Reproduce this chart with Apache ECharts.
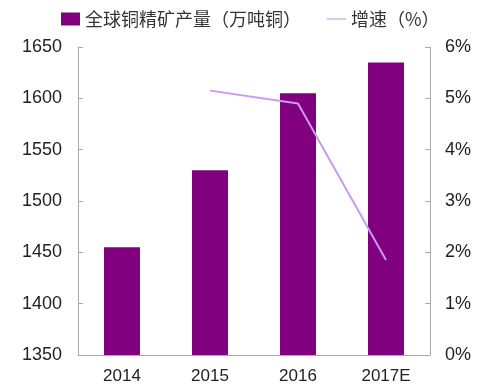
<!DOCTYPE html>
<html><head><meta charset="utf-8">
<script src="https://cdn.jsdelivr.net/npm/echarts@6/dist/echarts.min.js"></script>
<style>html,body{margin:0;padding:0;background:#fff}#c{width:499px;height:391px}</style>
</head><body><div id="c"></div>
<script>
const categories = ['2014', '2015', '2016', '2017E'];
const production = [1455, 1530, 1605, 1635];
const growth = [null, 5.15, 4.9, 1.85];
const leftTicks = [1350, 1650, 50];
const rightTicks = [0, 6, 1];

const chart = echarts.init(document.getElementById('c'), null, {renderer: 'canvas'});
const font = '"Liberation Sans", Arial, sans-serif';
chart.setOption({
  animation: false,
  legend: {
    top: 5, left: 56, itemGap: 26, itemWidth: 19, itemHeight: 13,
    textStyle: {fontSize: 18, color: '#333', fontFamily: '"Noto Sans CJK SC", sans-serif'},
    data: [
      {name: '全球铜精矿产量（万吨铜）', icon: 'rect'},
      {name: '增速（%）', icon: 'path://M0,0 L20,0 L20,1.2 L0,1.2 Z'}
    ]
  },
  grid: {left: 78, right: 69, top: 47, bottom: 36, containLabel: false},
  xAxis: {
    type: 'category', data: categories,
    axisLine: {lineStyle: {color: '#aaa'}},
    axisTick: {inside: true, length: 5, lineStyle: {color: '#aaa'}},
    axisLabel: {fontSize: 17, color: '#222', fontFamily: font, margin: 13}
  },
  yAxis: [
    {type: 'value', min: leftTicks[0], max: leftTicks[1], interval: leftTicks[2],
     axisLine: {show: true, lineStyle: {color: '#aaa'}},
     axisTick: {show: true, inside: true, length: 5, lineStyle: {color: '#aaa'}},
     splitLine: {show: false},
     axisLabel: {fontSize: 18, color: '#222', fontFamily: font, margin: 16, formatter: v => String(v)}},
    {type: 'value', min: rightTicks[0], max: rightTicks[1], interval: rightTicks[2], position: 'right',
     axisLine: {show: true, lineStyle: {color: '#aaa'}},
     axisTick: {show: true, inside: true, length: 5, lineStyle: {color: '#aaa'}},
     splitLine: {show: false},
     axisLabel: {fontSize: 18, color: '#222', fontFamily: font, margin: 15, formatter: v => v + '%'}}
  ],
  series: [
    {name: '全球铜精矿产量（万吨铜）', type: 'bar', data: production, barWidth: 36,
     itemStyle: {color: '#800080'}},
    {name: '增速（%）', type: 'line', yAxisIndex: 1, data: growth, symbol: 'none',
     lineStyle: {color: '#c89af0', width: 2}, itemStyle: {color: '#c89af0'}}
  ]
});
</script></body></html>
